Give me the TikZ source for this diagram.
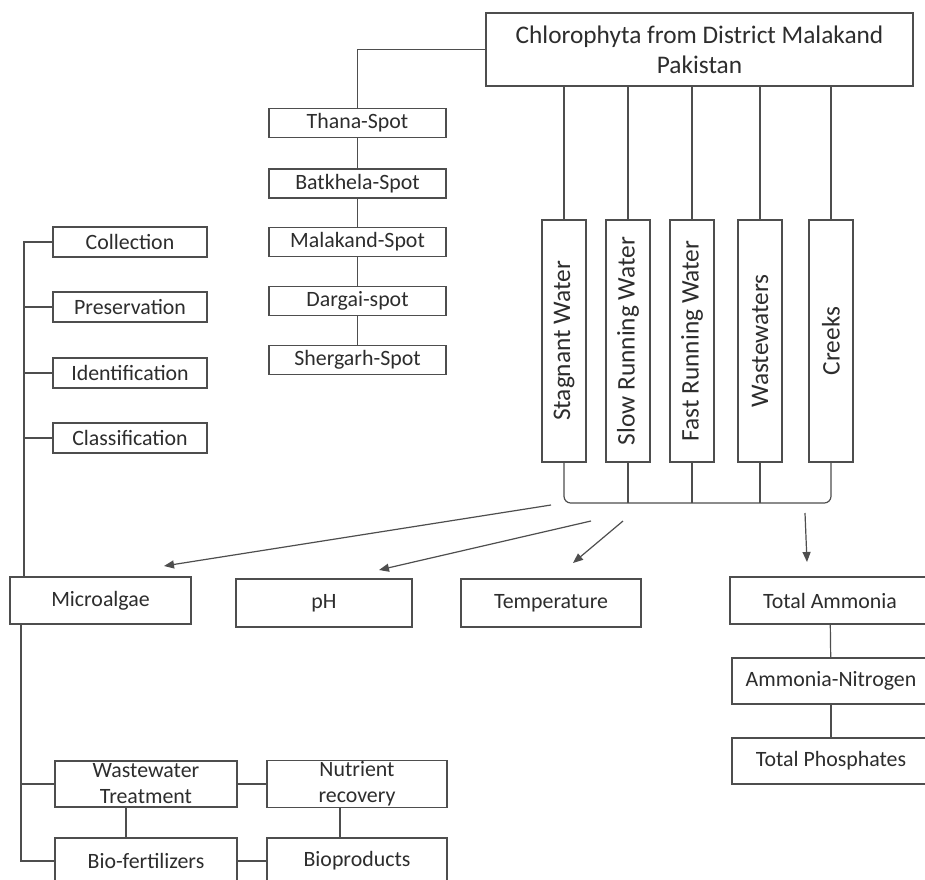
\documentclass[tikz,border=0pt]{standalone}
\usepackage{fontspec}
\setmainfont{Carlito}
\usepackage{xcolor}
\definecolor{Col1}{RGB}{78,78,78}
\definecolor{Col2}{RGB}{45,45,45}
\usepackage{tikz}
\usetikzlibrary{arrows.meta}
\tikzstyle{Box}=[draw=Col1,line width=0.9pt,inner sep=1pt,text=Col2,
font=\fontsize{16.4}{19.5}\selectfont,align=center]
\tikzstyle{BigBox}=[Box,font=\fontsize{19}{22.5}\selectfont]
\tikzstyle{SpotBox}=[Box,minimum width=132.75pt,minimum height=21.75pt]
\tikzstyle{StepBox}=[Box,minimum width=115.5pt,minimum height=22.5pt]
\tikzstyle{WaterBox}=[BigBox,rotate=90,minimum width=181.5pt,
minimum height=33pt]
\tikzstyle{Edge}=[draw=Col1,line width=0.9pt]
\tikzstyle{Arrow}=[Edge,-{Triangle[length=7.5pt,width=6pt]}]

\begin{document}
\begin{tikzpicture}[x=0.75pt,y=-0.75pt]
        \fill[white](0,0)rectangle(925,879);
        \useasboundingbox(0,0)rectangle(925,879);
        \node[BigBox,minimum width=320.25pt,minimum height=54.75pt](top)
            at(699.5,49.5){Chlorophyta from District Malakand\\Pakistan};
        \node[SpotBox](thana)at(357.5,123){Thana-Spot};
        \node[SpotBox](batkhela)at(357.5,183.5){Batkhela-Spot};
        \node[SpotBox](malakand)at(357.5,242){Malakand-Spot};
        \node[SpotBox](dargai)at(357.5,301){Dargai-spot};
        \node[SpotBox](shergarh)at(357.5,360){Shergarh-Spot};
        \node[WaterBox](w1)at(564,341){Stagnant Water};
        \node[WaterBox](w2)at(628,341){Slow Running Water};
        \node[WaterBox](w3)at(692,341){Fast Running Water};
        \node[WaterBox](w4)at(760,341){Wastewaters};
        \node[WaterBox](w5)at(831,341){Creeks};
        \node[StepBox](collect)at(130,242){Collection};
        \node[StepBox](preserve)at(130,307){Preservation};
        \node[StepBox](identify)at(130,373){Identification};
        \node[StepBox](classify)at(130,438){Classification};
        \node[Box,minimum width=135.75pt,minimum height=35.25pt](micro)
            at(100.5,600.5){Microalgae};
        \node[Box,minimum width=132pt,minimum height=36pt](ph)
            at(324,603){pH};
        \node[Box,minimum width=135pt,minimum height=36pt](temp)
            at(551,603){Temperature};
        \node[Box,minimum width=150pt,minimum height=35.25pt](ammonia)
            at(830,600.5){Total Ammonia};
        \node[Box,minimum width=148.5pt,minimum height=34.5pt](nitrogen)
            at(831,681){Ammonia-Nitrogen};
        \node[Box,minimum width=148.5pt,minimum height=34.5pt](phosph)
            at(831,761){Total Phosphates};
        \node[Box,minimum width=136.5pt,minimum height=34.5pt](wwt)
            at(146,784){Wastewater\\Treatment};
        \node[Box,minimum width=135pt,minimum height=34.5pt](nutrient)
            at(357,784){Nutrient\\recovery};
        \node[Box,minimum width=136.5pt,minimum height=34.5pt](biofert)
            at(146,861){Bio-fertilizers};
        \node[Box,minimum width=135pt,minimum height=34.5pt](bioprod)
            at(357,861){Bioproducts};
        \coordinate(trunk)at(24,0);
        \coordinate(trunkB)at(21,0);
        \coordinate(bus)at(0,503);
        \coordinate(s1)at(551,505);
        \coordinate(e1)at(164,566);
        \coordinate(s2)at(591,521);
        \coordinate(e2)at(379,570);
        \coordinate(s3)at(623,521);
        \coordinate(e3)at(573,563);
        \coordinate(s4)at(805,513);
        \coordinate(e4)at(807,562);
        \draw[Edge](top.west)-|(thana.north);
        \draw[Edge](thana)--(batkhela);
        \draw[Edge](batkhela)--(malakand);
        \draw[Edge](malakand)--(dargai);
        \draw[Edge](dargai)--(shergarh);
        \foreach \w in {w1,w2,w3,w4,w5}
            \draw[Edge](\w.east)--(\w.east|-top.south);
        \draw[Edge,rounded corners=5pt](w1.west)--(w1.west|-bus)
            --(w5.west|-bus)--(w5.west);
        \foreach \w in {w2,w3,w4}
            \draw[Edge](\w.west)--(\w.west|-bus);
        \draw[Edge](collect.west)--(collect.west-|trunk)
            --(micro.north-|trunk);
        \foreach \n in {preserve,identify,classify}
            \draw[Edge](\n.west)--(\n.west-|trunk);
        \draw[Edge](micro.south-|trunkB)|-(biofert.west);
        \draw[Edge](wwt.west)--(wwt.west-|trunkB);
        \draw[Edge](wwt)--(nutrient);
        \draw[Edge](biofert)--(bioprod);
        \draw[Edge]([xshift=-15pt]wwt.south)--([xshift=-15pt]biofert.north);
        \draw[Edge]([xshift=-12.75pt]nutrient.south)
            --([xshift=-12.75pt]bioprod.north);
        \draw[Edge](ammonia)--(nitrogen);
        \draw[Edge](nitrogen)--(phosph);
        \draw[Arrow](s1)--(e1);
        \draw[Arrow](s2)--(e2);
        \draw[Arrow](s3)--(e3);
        \draw[Arrow](s4)--(e4);
    \end{tikzpicture}
\end{document}
